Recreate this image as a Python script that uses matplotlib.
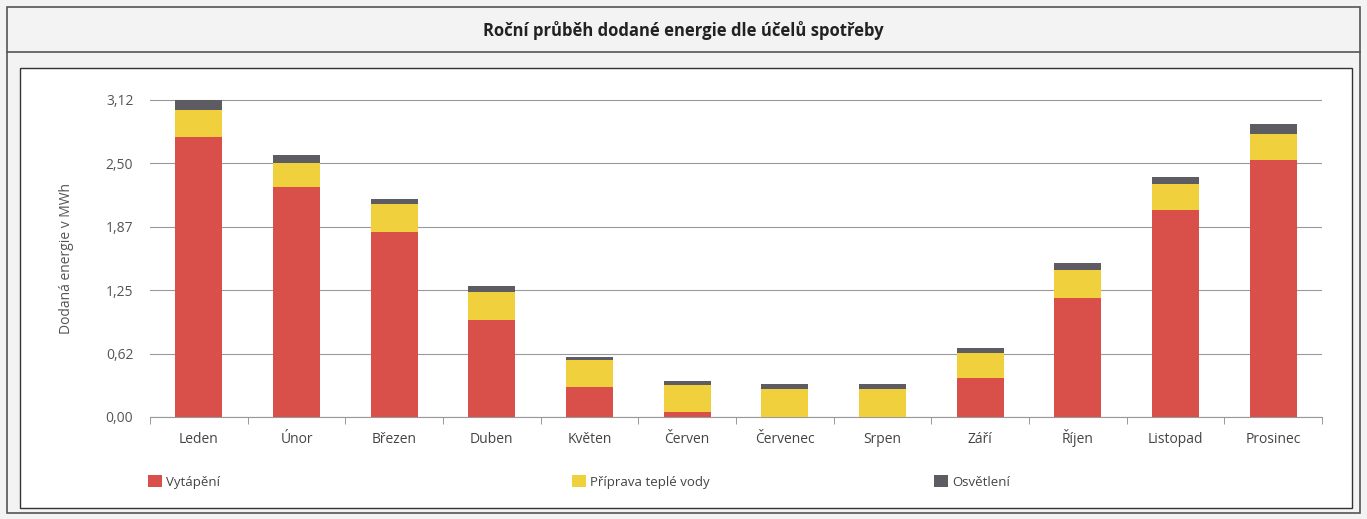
import numpy as np
import matplotlib.pyplot as plt
from matplotlib.patches import Rectangle

mesice = ['Leden', 'Únor', 'Březen', 'Duben', 'Květen', 'Červen', 'Červenec',
          'Srpen', 'Září', 'Říjen', 'Listopad', 'Prosinec']
vytapeni = [2.75, 2.26, 1.82, 0.95, 0.29, 0.05, 0.0, 0.0, 0.38, 1.17, 2.03, 2.53]
tepla_voda = [0.27, 0.24, 0.27, 0.28, 0.27, 0.26, 0.28, 0.275, 0.25, 0.27, 0.255, 0.25]
osvetleni = [0.10, 0.07, 0.055, 0.055, 0.03, 0.045, 0.04, 0.045, 0.045, 0.07, 0.072, 0.10]
y_ticks = [0.0, 0.624, 1.248, 1.872, 2.496, 3.12]
y_labels = ['0,00', '0,62', '1,25', '1,87', '2,50', '3,12']

plt.rcParams['font.family'] = ['Open Sans', 'DejaVu Sans']

W, H = 1367, 519
fig = plt.figure(figsize=(W / 100, H / 100), dpi=100)
fig.patch.set_facecolor('#f3f3f3')

def px(x0, y0, x1, y1):
    # pixel box -> figure fraction rect
    return (x0 / W, 1 - y1 / H, (x1 - x0) / W, (y1 - y0) / H)

# outer frame, title bar line, inner white box
r = px(7, 7, 1360, 513)
fig.patches.append(Rectangle(r[:2], r[2], r[3], transform=fig.transFigure,
                             fill=False, edgecolor='#555555', lw=1.2, zorder=-2))
fig.add_artist(plt.Line2D([7 / W, 1360 / W], [1 - 52 / H, 1 - 52 / H],
                          transform=fig.transFigure, color='#555555', lw=1.2, zorder=-2))
r = px(20, 68, 1352, 508)
fig.patches.append(Rectangle(r[:2], r[2], r[3], transform=fig.transFigure,
                             facecolor='white', edgecolor='#333333', lw=1.0, zorder=-1))

fig.text(683 / W, 1 - 31 / H, 'Roční průběh dodané energie dle účelů spotřeby',
         ha='center', va='center', fontsize=12, fontweight='bold', color='#222222')

ax = fig.add_axes(px(150, 99, 1322, 417))
ax.set_zorder(2)
x = np.arange(len(mesice))
w = 0.48
b1 = ax.bar(x, vytapeni, w, color='#d9504b', zorder=3)
b2 = ax.bar(x, tepla_voda, w, bottom=vytapeni, color='#f0d03c', zorder=3)
spodek = np.array(vytapeni) + np.array(tepla_voda)
b3 = ax.bar(x, osvetleni, w, bottom=spodek, color='#5c5c62', zorder=3)

ax.set_xlim(-0.5, len(mesice) - 0.5)
ax.set_ylim(0, 3.125)
ax.set_yticks(y_ticks)
ax.set_yticklabels(y_labels)
ax.set_xticks(x)
ax.set_xticklabels(mesice, va='baseline')
ax.set_xticks(np.arange(-0.5, len(mesice)), minor=True)
ax.tick_params(axis='x', which='major', length=0, pad=18.5, labelsize=10, labelcolor='#444444')
ax.tick_params(axis='x', which='minor', length=5, color='#888888')
ax.tick_params(axis='y', length=0, pad=12, labelsize=10, labelcolor='#555555')
ax.grid(axis='y', color='#9a9a9a', lw=0.8, zorder=0)
for s in ['top', 'right', 'left']:
    ax.spines[s].set_visible(False)
ax.spines['bottom'].set_color('#999999')
ax.patch.set_alpha(0)
ax.set_ylabel('Dodaná energie v MWh', fontsize=10, color='#555555', labelpad=23)

# legend entries placed individually
for h, lab, xp in [(b1, 'Vytápění', 148), (b2, 'Příprava teplé vody', 572), (b3, 'Osvětlení', 934)]:
    fig.legend(handles=[h], labels=[lab], loc='center left',
               bbox_to_anchor=(xp / W, 1 - 482 / H), frameon=False,
               handlelength=1.05, handleheight=1.05, handletextpad=0.3,
               borderaxespad=0, borderpad=0, fontsize=9.5, labelcolor='#444444')

fig.savefig('out.png', dpi=100, facecolor=fig.get_facecolor())
